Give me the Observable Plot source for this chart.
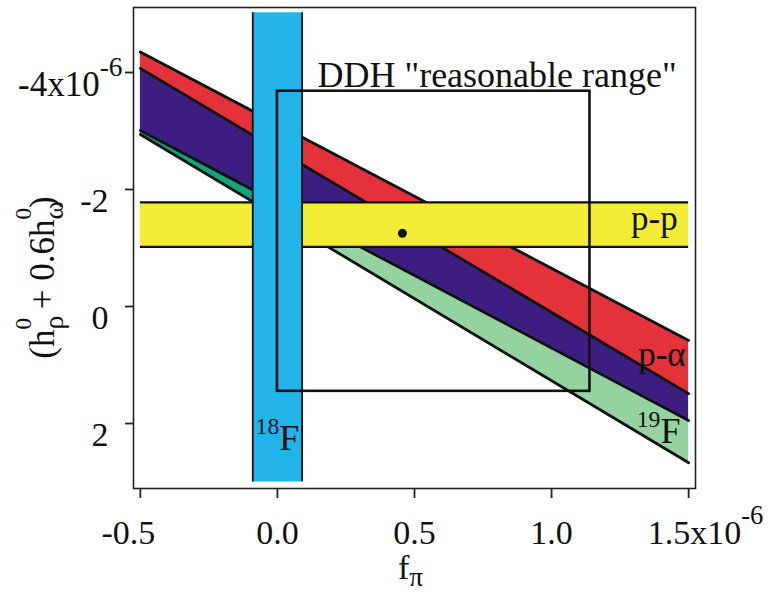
<!DOCTYPE html>
<html><head><meta charset="utf-8">
<script src="https://cdn.jsdelivr.net/npm/d3@7"></script>
<script src="https://cdn.jsdelivr.net/npm/@observablehq/plot@0.6"></script>
<style>
html,body{margin:0;padding:0;background:#fff}
#chart svg{display:block;font-family:"Liberation Serif","Times New Roman",serif}
</style>
</head><body><div id="chart"></div>
<script>
// ---- data (values in units of 1e-6) ----
const xTicks = [-0.5, 0, 0.5, 1.0, 1.5];
const xTickLabels = ["-0.5", "0.0", "0.5", "1.0", "1.5x10^{-6}"];
const yTicks = [-4, -2, 0, 2];
const yTickLabels = ["-4x10^{-6}", "-2", "0", "2"];

// diagonal constraint lines: value of (h_rho + 0.6 h_omega) at f_pi = -0.5 and 1.5
const lineIds = ["L1", "L2", "L3", "L4"];
const lineX = [-0.5, 1.5];
const lineYStart = [-4.35, -4.07, -3.01, -2.94];
const lineYEnd = [0.58, 1.49, 1.95, 2.67];

// filled regions between lines
const bandNames = ["p-α", "p-α ∩ 19F", "19F"];
const bandTop = ["L1", "L2", "L3"];
const bandBottom = ["L2", "L3", "L4"];
const bandColors = ["#e4323a", "#3b1e80", "url(#f19grad)"];

const ppY = [-1.78, -1.02];   // p-p band
const ppX = [-0.5, 1.5];
const f18X = [-0.09, 0.09];   // 18F band
const f18Y = [-5.02, 3.0];
const ddhX = [0, 1.14];       // DDH reasonable range
const ddhY = [-3.68, 1.45];
const ddhBest = [{f: 0.456, h: -1.25}];

const labels = [
  {text: "DDH \"reasonable range\"", x: 0.146, y: -3.76, anchor: "start", size: 36},
  {text: "p-p", x: 1.46, y: -1.30, anchor: "end", size: 35},
  {text: "p-α", x: 1.489, y: 1.01, anchor: "end", size: 35},
  {text: "^{19}F", x: 1.47, y: 2.34, anchor: "end", size: 36},
  {text: "^{18}F", x: 0.0, y: 2.46, anchor: "middle", size: 36}
];
const xTitle = "f_{π}";
const yTitle = "(h_{ρ}^{0} + 0.6h_{ω}^{0})";

// ---- derived tables ----
const idx = id => lineIds.indexOf(id);
const yAt = (id, j) => (j === 0 ? lineYStart : lineYEnd)[idx(id)];
const linePts = lineIds.flatMap((id, i) => [
  {id, x: lineX[0], y: lineYStart[i]}, {id, x: lineX[1], y: lineYEnd[i]}]);
const bandPts = bandNames.map((b, k) => lineX.map((x, j) => ({
  band: b, x, y1: yAt(bandTop[k], j), y2: yAt(bandBottom[k], j)})));

const ink = "#111";
const plot = Plot.plot({
  width: 768, height: 592,
  marginTop: 7, marginRight: 73, marginBottom: 104, marginLeft: 133,
  x: {domain: [-0.525, 1.525]},
  y: {domain: [-5.111, 3.111], reverse: true},
  style: {fontFamily: "Liberation Serif", background: "white", color: ink},
  marks: [
    ...bandPts.map((pts, k) => Plot.areaY(pts, {x: "x", y1: "y1", y2: "y2", fill: bandColors[k]})),
    Plot.line(linePts, {x: "x", y: "y", z: "id", stroke: ink, strokeWidth: 2.8}),
    Plot.rect([{x1: ppX[0], x2: ppX[1], y1: ppY[0], y2: ppY[1]}], {x1: "x1", x2: "x2", y1: "y1", y2: "y2", fill: "#f4ed35"}),
    Plot.ruleY(ppY, {y: d => d, x1: () => ppX[0], x2: () => ppX[1], stroke: ink, strokeWidth: 2.2}),
    Plot.rect([{x1: f18X[0], x2: f18X[1], y1: f18Y[0], y2: f18Y[1]}], {x1: "x1", x2: "x2", y1: "y1", y2: "y2", fill: "#22b3e9"}),
    Plot.ruleX(f18X, {x: d => d, y1: () => f18Y[0], y2: () => f18Y[1], stroke: ink, strokeWidth: 1.8}),
    Plot.rect([{x1: ddhX[0], x2: ddhX[1], y1: ddhY[0], y2: ddhY[1]}], {x1: "x1", x2: "x2", y1: "y1", y2: "y2", fill: "none", stroke: ink, strokeWidth: 2.6}),
    Plot.dot(ddhBest, {x: "f", y: "h", r: 4.5, fill: ink, stroke: null}),
    ...labels.map(l => Plot.text([l], {x: "x", y: "y", text: "text", textAnchor: l.anchor, lineAnchor: "bottom", fontSize: l.size, fill: ink, className: "lab"})),
    Plot.frame({stroke: "#222", strokeWidth: 1.6}),
    Plot.axisX(xTicks, {tickSize: 10, tickFormat: () => "", label: null, strokeWidth: 1.8, stroke: "#222"}),
    Plot.axisY(yTicks, {tickSize: 8, tickFormat: () => "", label: null, strokeWidth: 1.8, stroke: "#222"}),
    // tick labels
    Plot.text(yTicks.slice(0, 1), {y: d => d, frameAnchor: "left", dx: -11, dy: 12, textAnchor: "end", text: () => yTickLabels[0], fontSize: 35, fill: ink, className: "tk"}),
    Plot.text(yTicks.slice(1), {y: d => d, frameAnchor: "left", dx: -25, dy: 12, textAnchor: "end", text: (d, i) => yTickLabels[i + 1], fontSize: 34, fill: ink, className: "tk"}),
    Plot.text(xTicks.slice(0, 1), {x: d => d, frameAnchor: "bottom", textAnchor: "middle", dx: -12, dy: 55, lineAnchor: "bottom", text: () => xTickLabels[0], fontSize: 34, fill: ink, className: "tk"}),
    Plot.text(xTicks.slice(1, 4), {x: d => d, frameAnchor: "bottom", textAnchor: "middle", dy: 55, lineAnchor: "bottom", text: (d, i) => xTickLabels[i + 1], fontSize: 34, fill: ink, className: "tk"}),
    Plot.text(xTicks.slice(4), {x: d => d, frameAnchor: "bottom", dx: -41, dy: 55, textAnchor: "start", lineAnchor: "bottom", text: () => xTickLabels[4], fontSize: 34, fill: ink, className: "tk"}),
    // axis titles
    Plot.text([xTitle], {x: () => 0.5, frameAnchor: "bottom", textAnchor: "middle", dx: -4, dy: 90, lineAnchor: "bottom", text: d => d, fontSize: 34, fill: ink, className: "ttlx"}),
    Plot.text([yTitle], {frameAnchor: "left", textAnchor: "middle", rotate: -90, dx: -80, dy: 29.5, lineAnchor: "bottom", text: d => d, fontSize: 35, fill: ink, className: "ttl"})
  ]
});
document.getElementById("chart").appendChild(plot);

// gradient for the 19F-only region (teal left of the 18F band, light green right of it)
const svgns = "http://www.w3.org/2000/svg";
const defs = document.createElementNS(svgns, "defs");
const grad = document.createElementNS(svgns, "linearGradient");
grad.setAttribute("id", "f19grad");
grad.setAttribute("x1", "0"); grad.setAttribute("x2", "1");
grad.setAttribute("y1", "0"); grad.setAttribute("y2", "0");
const stopAt = (f18X[0] - lineX[0]) / (lineX[1] - lineX[0]);
[[0, "#12a57a"], [stopAt, "#12a57a"], [stopAt, "#94d2a0"], [1, "#94d2a0"]].forEach(([o, c]) => {
  const s = document.createElementNS(svgns, "stop");
  s.setAttribute("offset", o); s.setAttribute("stop-color", c);
  grad.appendChild(s);
});
defs.appendChild(grad);
plot.insertBefore(defs, plot.firstChild);

// rich text: ^{sup} and _{sub}
function richText(el, p) {
  const s = el.textContent;
  if (!/[\^_]\{/.test(s)) return;
  const fs = parseFloat(getComputedStyle(el).fontSize);
  while (el.firstChild) el.removeChild(el.firstChild);
  const re = /([\^_])\{([^}]*)\}|([^\^_]+)/g;
  let m, shift = 0, prev = null, prevType = null;
  while ((m = re.exec(s))) {
    const t = document.createElementNS(svgns, "tspan");
    let target = 0, type = "n";
    if (m[1] === "^") { type = "sup"; target = -p.supRaise * fs; t.setAttribute("font-size", p.supScale * fs); t.textContent = m[2]; }
    else if (m[1] === "_") { type = "sub"; target = p.subDrop * fs; t.setAttribute("font-size", p.subScale * fs); t.textContent = m[2]; }
    else t.textContent = m[3];
    t.setAttribute("dy", target - shift);
    shift = target;
    el.appendChild(t);
    if (type === "sup" && prevType === "sub") t.setAttribute("dx", -prev.getComputedTextLength());
    prev = t; prevType = type;
  }
}
plot.querySelectorAll("g.tk text").forEach(el => richText(el, {supRaise: 0.56, supScale: 0.78, subDrop: 0.25, subScale: 0.7}));
plot.querySelectorAll("g.lab text").forEach(el => richText(el, {supRaise: 0.45, supScale: 0.66, subDrop: 0.25, subScale: 0.7}));
plot.querySelectorAll("g.ttl text").forEach(el => richText(el, {supRaise: 0.64, supScale: 0.66, subDrop: 0.28, subScale: 0.8}));
plot.querySelectorAll("g.ttlx text").forEach(el => richText(el, {supRaise: 0.64, supScale: 0.66, subDrop: 0.22, subScale: 0.8}));
</script>
</body></html>
